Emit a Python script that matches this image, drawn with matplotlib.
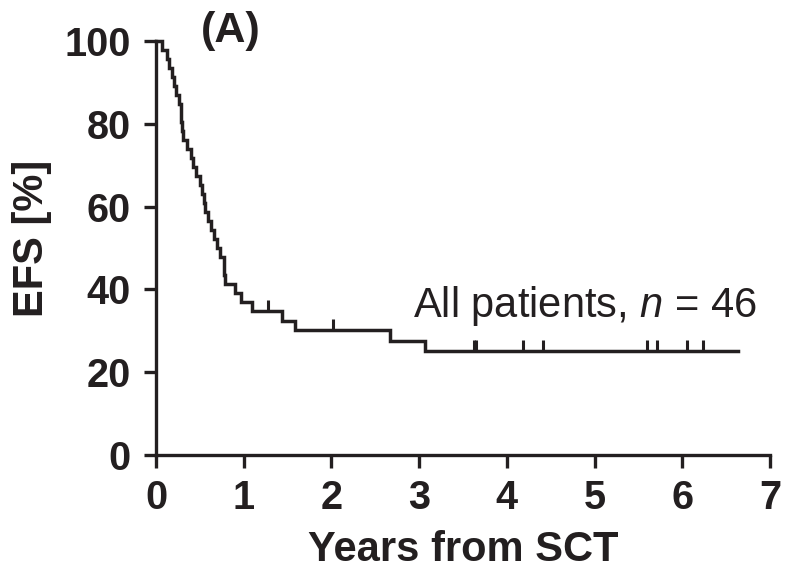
import numpy as np
import matplotlib
matplotlib.use('Agg')
from matplotlib import pyplot as plt

# event (relapse/death) times and censoring times, years from SCT
event_times = [0.065, 0.12, 0.15, 0.18, 0.21, 0.23, 0.26, 0.28, 0.29, 0.30,
               0.31, 0.35, 0.40, 0.42, 0.46, 0.50, 0.53, 0.55, 0.56, 0.59,
               0.63, 0.66, 0.69, 0.73, 0.77, 0.78, 0.79, 0.90, 0.97, 1.09,
               1.44, 1.58, 2.67, 3.07]
censor_times = [1.28, 2.02, 3.62, 3.65, 4.18, 4.41, 5.60, 5.71, 6.05, 6.24,
                6.64, 6.64]
n_patients = 46

x_ticks = [0, 1, 2, 3, 4, 5, 6, 7]
y_ticks = [0, 20, 40, 60, 80, 100]

ink = '#231f20'
plt.rcParams['font.family'] = ['Liberation Sans', 'DejaVu Sans']
plt.rcParams['mathtext.fontset'] = 'custom'
plt.rcParams['mathtext.rm'] = 'Liberation Sans'
plt.rcParams['mathtext.it'] = 'Liberation Sans:italic'


def kaplan_meier(events, censors):
    '''Kaplan-Meier estimate, returns step times, survival in % and
    survival at each censoring time'''
    times = np.array(list(events) + list(censors), dtype=float)
    is_event = np.array([1] * len(events) + [0] * len(censors))
    order = np.lexsort((-is_event, times))
    times, is_event = times[order], is_event[order]
    at_risk = len(times)
    s = 1.0
    step_t, step_s = [0.0], [100.0]
    cens_t, cens_s = [], []
    for t, e in zip(times, is_event):
        if e:
            s *= (at_risk - 1) / at_risk
            step_t.append(t)
            step_s.append(s * 100)
        else:
            cens_t.append(t)
            cens_s.append(s * 100)
        at_risk -= 1
    step_t.append(times.max())
    step_s.append(s * 100)
    return np.array(step_t), np.array(step_s), np.array(cens_t), np.array(cens_s)


step_t, step_s, cens_t, cens_s = kaplan_meier(event_times, censor_times)

fig = plt.figure(figsize=(7.85, 5.68), dpi=100)
ax = fig.add_axes([156 / 785, 1 - 455 / 568, 614 / 785, 414 / 568])

ax.step(step_t, step_s, where='post', color=ink, lw=2.5, clip_on=False,
        solid_joinstyle='miter')
# censoring marks drawn upward from the curve (last one is the curve end)
marks = cens_t < step_t[-1]
ax.vlines(cens_t[marks], cens_s[marks], cens_s[marks] + 2.6, color=ink, lw=2.2)

ax.text(2.93, 33.3, 'All patients, $n$ = 46', fontsize=30, color=ink,
        ha='left', va='baseline')

ax.set_xlim(0, 7)
ax.set_ylim(0, 100)
ax.set_xticks(x_ticks)
ax.set_yticks(y_ticks)
ax.spines['top'].set_visible(False)
ax.spines['right'].set_visible(False)
for side in ['left', 'bottom']:
    ax.spines[side].set_linewidth(2.4)
    ax.spines[side].set_color(ink)
ax.tick_params(direction='out', length=9, width=2.4, color=ink,
               labelsize=28.5, labelcolor=ink)
ax.tick_params(axis='y', pad=9)
ax.tick_params(axis='x', pad=8)
for lab in ax.get_xticklabels() + ax.get_yticklabels():
    lab.set_fontweight('bold')

ax.set_xlabel('Years from SCT', fontsize=30, fontweight='bold', color=ink)
ax.set_ylabel('EFS [%]', fontsize=30, fontweight='bold', color=ink)
ax.xaxis.set_label_coords(0.5, -0.18)
ax.yaxis.set_label_coords(-0.17, 0.524)

fig.text(231 / 785, 1 - 31 / 568, '(A)', fontsize=31, fontweight='bold',
         color=ink, ha='center', va='center')

fig.savefig('out.png', dpi=100)
